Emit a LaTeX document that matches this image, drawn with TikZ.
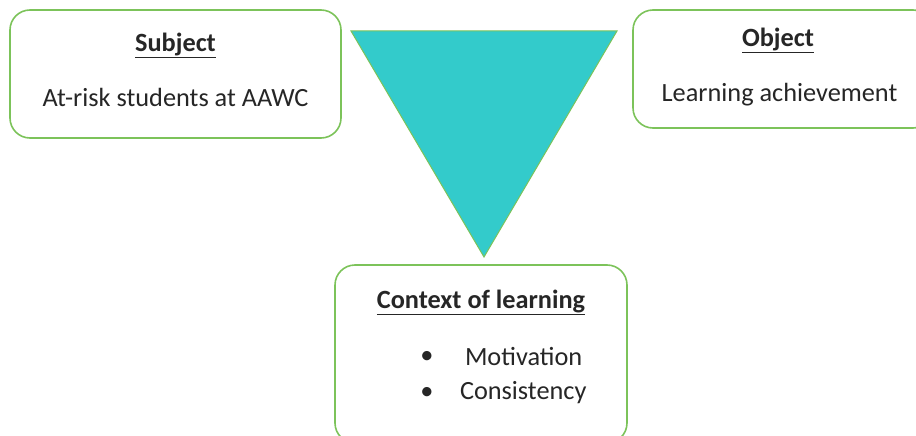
\documentclass[tikz,border=0pt]{standalone}
\usepackage{fontspec}
\setmainfont{Carlito}
\usepackage{tikz}

\definecolor{boxgreen}{HTML}{7CC35A}
\definecolor{teal}{HTML}{33CBCB}

\begin{document}
\begin{tikzpicture}[x=1pt, y=-1pt,
  every node/.style={font=\fontsize{26.3}{31}\selectfont, text=black!85, inner sep=0pt, outer sep=0pt},
  box/.style={draw=boxgreen, line width=1.6pt, rounded corners=20pt, fill=white},
  title/.style={font=\fontsize{26.3}{31}\selectfont\bfseries}]
\clip (0,0) rectangle (916,436);

\node[box, minimum width=331pt, minimum height=128pt] (subject) at (175.5,74) {};
\node[box, minimum width=300pt, minimum height=118pt] (object) at (783,69) {};
\node[box, minimum width=292pt, minimum height=178pt] (context) at (481,354) {};

% the triangle in the middle
\draw[fill=teal, draw=boxgreen, line width=1pt] (351,31) -- (617,31) -- (484,257) -- cycle;

\node[title] (subjecttitle) at (175.5,45) {\underline{Subject}};
\node (subjecttext) at (175.5,97) {At-risk students at AAWC};

\node[title] (objecttitle) at (778,40) {\underline{Object}};
\node (objecttext) at (779.5,95) {Learning achievement};

\node[title] (contexttitle) at (481,302) {\underline{Context of learning}};
\node (dot1) at (427,357) {\textbullet};
\node[anchor=west] (motivation) at (465,357) {Motivation};
\node (dot2) at (427,393) {\textbullet};
\node[anchor=west] (consistency) at (460,393) {Consistency};
\end{tikzpicture}
\end{document}
